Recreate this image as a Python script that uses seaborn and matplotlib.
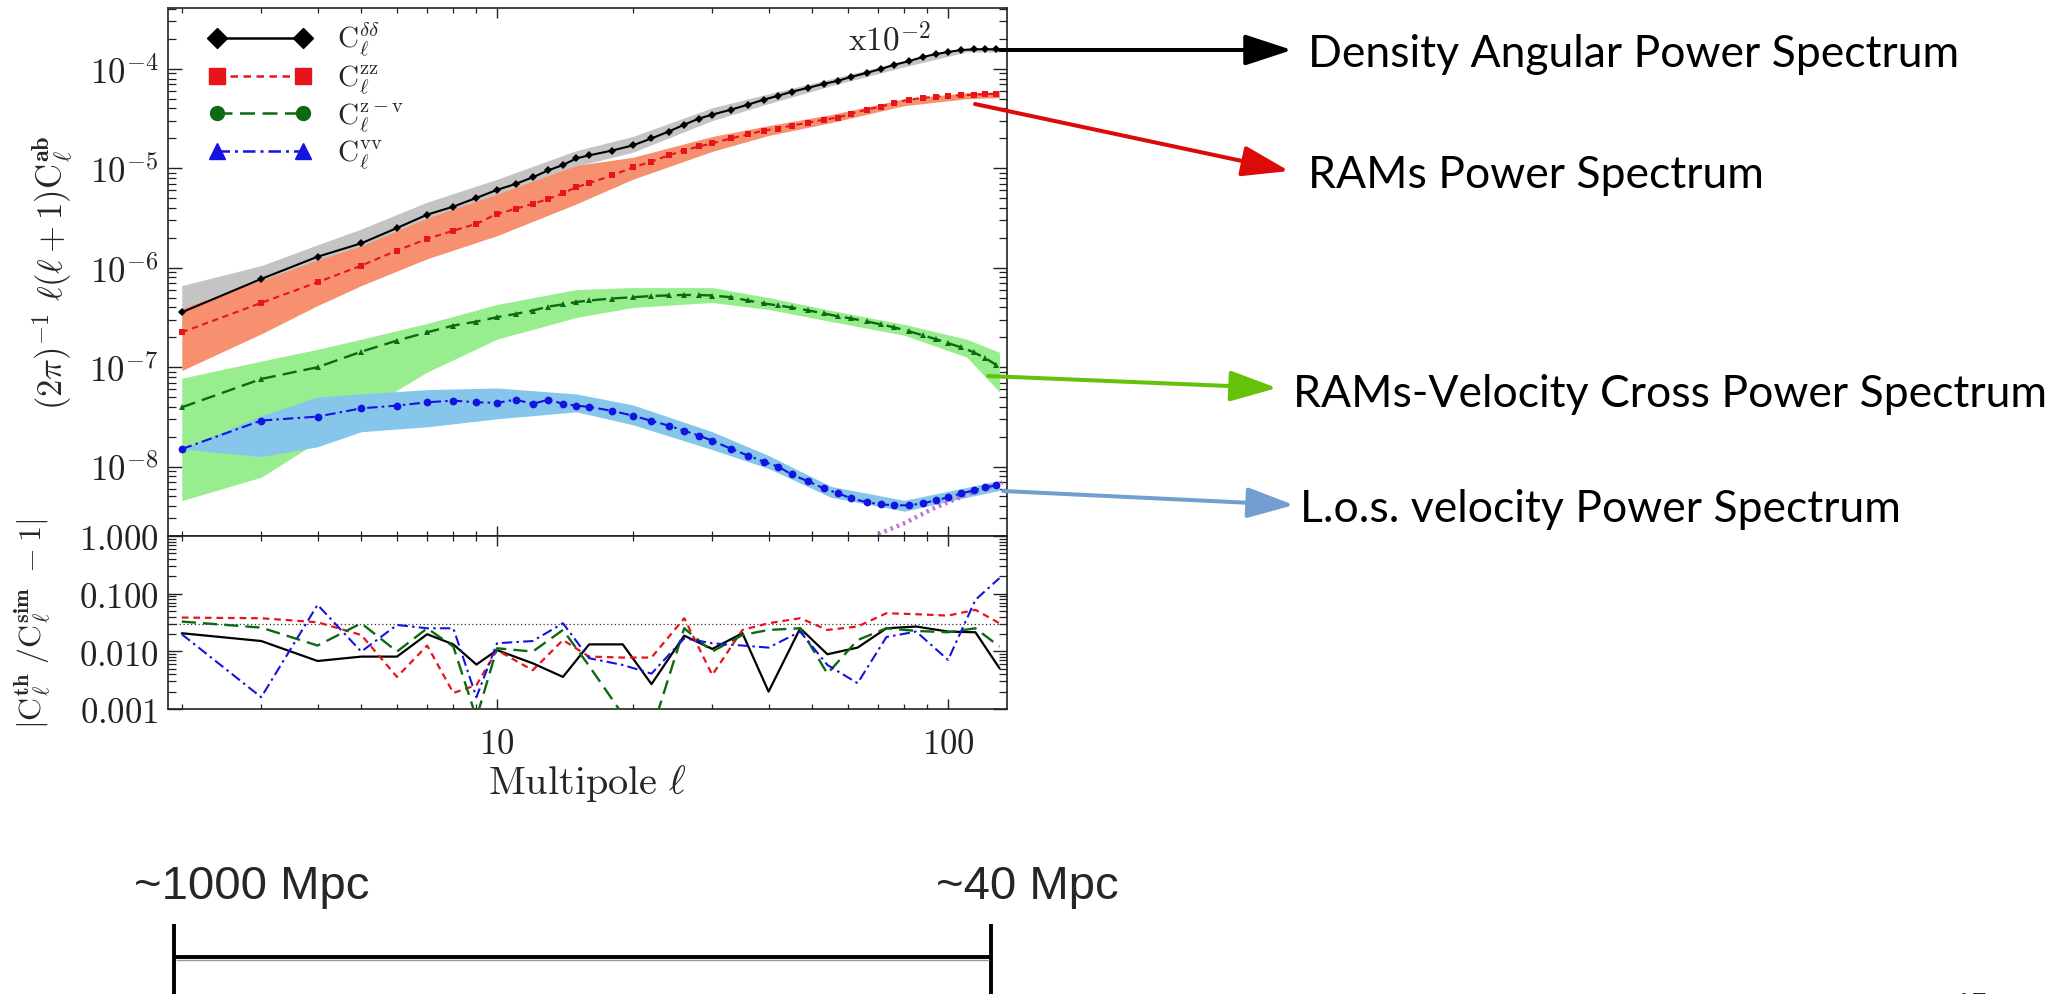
import numpy as np
import matplotlib
matplotlib.use("Agg")
import matplotlib.pyplot as plt
import seaborn as sns
from matplotlib.lines import Line2D
from matplotlib.ticker import FixedLocator, FixedFormatter, LogLocator, NullFormatter

# ---------------------------------------------------------------------------
# Angular power spectra, l(l+1)C_l/2pi, sampled multipoles
ell = [2, 3, 4, 5, 6, 7, 8, 9, 10, 11, 12, 13, 14, 15, 16, 18, 20, 22, 24, 26,
       28, 30, 33, 36, 39, 42, 45, 49, 53, 57, 61, 66, 71, 76, 82, 88, 94, 100,
       107, 114, 121, 128]

cl_dd = [3.56e-7, 7.71e-7, 1.29e-6, 1.76e-6, 2.51e-6, 3.42e-6, 4.12e-6, 5.04e-6,
         6.07e-6, 6.97e-6, 8.13e-6, 9.55e-6, 1.08e-5, 1.26e-5, 1.35e-5, 1.51e-5,
         1.70e-5, 2.00e-5, 2.34e-5, 2.75e-5, 3.16e-5, 3.47e-5, 3.89e-5, 4.37e-5,
         4.90e-5, 5.37e-5, 5.89e-5, 6.46e-5, 7.08e-5, 7.59e-5, 8.32e-5, 9.12e-5,
         1.00e-4, 1.10e-4, 1.20e-4, 1.32e-4, 1.41e-4, 1.48e-4, 1.55e-4, 1.57e-4,
         1.58e-4, 1.57e-4]

cl_zz = [2.24e-7, 4.43e-7, 7.14e-7, 1.05e-6, 1.49e-6, 1.95e-6, 2.36e-6, 2.76e-6,
         3.48e-6, 3.91e-6, 4.39e-6, 4.92e-6, 5.62e-6, 6.46e-6, 7.08e-6, 8.51e-6,
         1.02e-5, 1.17e-5, 1.35e-5, 1.51e-5, 1.66e-5, 1.78e-5, 2.00e-5, 2.19e-5,
         2.40e-5, 2.51e-5, 2.69e-5, 2.88e-5, 3.09e-5, 3.24e-5, 3.55e-5, 3.89e-5,
         4.17e-5, 4.57e-5, 4.90e-5, 5.13e-5, 5.25e-5, 5.37e-5, 5.43e-5, 5.50e-5,
         5.56e-5, 5.62e-5]

cl_zv = [3.94e-8, 7.60e-8, 9.98e-8, 1.43e-7, 1.85e-7, 2.24e-7, 2.62e-7, 2.87e-7,
         3.18e-7, 3.43e-7, 3.71e-7, 4.07e-7, 4.27e-7, 4.52e-7, 4.68e-7, 4.90e-7,
         5.05e-7, 5.19e-7, 5.27e-7, 5.32e-7, 5.32e-7, 5.25e-7, 5.05e-7, 4.68e-7,
         4.37e-7, 4.17e-7, 3.98e-7, 3.72e-7, 3.47e-7, 3.24e-7, 3.09e-7, 2.88e-7,
         2.69e-7, 2.51e-7, 2.29e-7, 2.09e-7, 1.91e-7, 1.74e-7, 1.58e-7, 1.41e-7,
         1.23e-7, 1.05e-7]

cl_vv = [1.50e-8, 2.90e-8, 3.18e-8, 3.85e-8, 4.10e-8, 4.43e-8, 4.60e-8, 4.43e-8,
         4.37e-8, 4.71e-8, 4.27e-8, 4.71e-8, 4.27e-8, 4.10e-8, 3.98e-8, 3.63e-8,
         3.25e-8, 2.88e-8, 2.58e-8, 2.29e-8, 2.05e-8, 1.82e-8, 1.51e-8, 1.29e-8,
         1.12e-8, 1.00e-8, 8.32e-9, 7.08e-9, 6.03e-9, 5.37e-9, 4.79e-9, 4.37e-9,
         4.17e-9, 4.07e-9, 4.07e-9, 4.27e-9, 4.57e-9, 4.90e-9, 5.37e-9, 5.75e-9,
         6.17e-9, 6.46e-9]

# scatter envelopes of the simulated spectra
ell_band = [2, 3, 4, 5, 7, 10, 15, 20, 30, 40, 55, 80, 110, 130]
dd_lo = [2.51e-7, 5.62e-7, 1.00e-6, 1.35e-6, 2.69e-6, 4.68e-6, 1.05e-5, 1.45e-5,
         3.02e-5, 4.47e-5, 6.76e-5, 1.05e-4, 1.48e-4, 1.48e-4]
dd_hi = [6.61e-7, 1.05e-6, 1.70e-6, 2.45e-6, 4.57e-6, 7.76e-6, 1.51e-5, 2.09e-5,
         4.07e-5, 5.62e-5, 7.94e-5, 1.20e-4, 1.62e-4, 1.66e-4]
zz_lo = [9.23e-8, 2.16e-7, 4.16e-7, 6.61e-7, 1.23e-6, 2.10e-6, 4.39e-6, 7.76e-6,
         1.48e-5, 2.14e-5, 2.88e-5, 4.27e-5, 5.01e-5, 5.13e-5]
zz_hi = [3.89e-7, 7.41e-7, 1.20e-6, 1.66e-6, 3.16e-6, 5.50e-6, 1.07e-5, 1.29e-5,
         2.09e-5, 2.69e-5, 3.47e-5, 5.01e-5, 5.75e-5, 5.89e-5]
zv_lo = [4.54e-9, 7.80e-9, 1.78e-8, 3.55e-8, 8.91e-8, 1.91e-7, 3.16e-7, 3.98e-7,
         4.47e-7, 3.80e-7, 2.88e-7, 2.09e-7, 1.26e-7, 5.62e-8]
zv_hi = [7.73e-8, 1.15e-7, 1.51e-7, 1.91e-7, 2.75e-7, 4.27e-7, 6.03e-7, 6.31e-7,
         6.31e-7, 5.01e-7, 3.72e-7, 2.69e-7, 1.91e-7, 1.41e-7]
vv_lo = [1.50e-8, 1.26e-8, 1.58e-8, 2.24e-8, 2.51e-8, 3.02e-8, 3.55e-8, 2.63e-8,
         1.48e-8, 9.55e-9, 4.90e-9, 3.55e-9, 4.90e-9, 5.75e-9]
vv_hi = [1.50e-8, 3.24e-8, 5.01e-8, 5.37e-8, 5.94e-8, 6.17e-8, 5.37e-8, 4.17e-8,
         2.24e-8, 1.29e-8, 6.31e-9, 4.57e-9, 6.17e-9, 7.24e-9]

# linear-theory velocity spectrum at high multipoles
ell_lin = [70, 80, 92, 110, 132]
cl_lin = [2.09e-9, 2.69e-9, 3.72e-9, 5.25e-9, 6.92e-9]

# relative deviation theory / simulation, binned multipoles
ell_res = [2, 3, 4, 5, 6, 7, 8, 9, 10, 12, 14, 16, 19, 22, 26, 30, 35, 40, 47,
           54, 63, 73, 85, 100, 115, 130]
res_dd = [0.0206, 0.0151, 0.0068, 0.0081, 0.0081, 0.0198, 0.0132, 0.0059, 0.0105,
          0.0062, 0.0036, 0.0132, 0.0132, 0.0027, 0.0187, 0.0110, 0.0206, 0.0020,
          0.0251, 0.0089, 0.0116, 0.0251, 0.0269, 0.0220, 0.0214, 0.0051]
res_zz = [0.0385, 0.0375, 0.0319, 0.0192, 0.0036, 0.0126, 0.0019, 0.0026, 0.0105,
          0.0047, 0.0157, 0.0081, 0.0078, 0.0078, 0.0375, 0.0039, 0.0235, 0.0307,
          0.0375, 0.0235, 0.0269, 0.0458, 0.0440, 0.0417, 0.0524, 0.0307]
res_zv = [0.0328, 0.0258, 0.0126, 0.0307, 0.0099, 0.0251, 0.0121, 0.0007, 0.0113,
          0.0099, 0.0235, 0.0056, 0.0008, 0.0004, 0.0251, 0.0099, 0.0192, 0.0235,
          0.0251, 0.0041, 0.0157, 0.0251, 0.0226, 0.0214, 0.0251, 0.0121]
res_vv = [0.0198, 0.0016, 0.0640, 0.0099, 0.0287, 0.0251, 0.0251, 0.0016, 0.0138,
          0.0151, 0.0307, 0.0076, 0.0058, 0.0041, 0.0168, 0.0138, 0.0126, 0.0116,
          0.0220, 0.0058, 0.0028, 0.0177, 0.0220, 0.0071, 0.0782, 0.1860]
res_ref = 0.03

# axis tick labels
xticks = [10, 100]
xticklabels = [r"$10$", r"$100$"]
yticks_top = [1e-8, 1e-7, 1e-6, 1e-5, 1e-4]
yticklabels_top = [r"$10^{-8}$", r"$10^{-7}$", r"$10^{-6}$", r"$10^{-5}$", r"$10^{-4}$"]
yticks_res = [1e-3, 1e-2, 1e-1, 1.0]
yticklabels_res = [r"$0.001$", r"$0.010$", r"$0.100$", r"$1.000$"]

legend_labels = [r"$\mathrm{C}_\ell^{\delta\delta}$", r"$\mathrm{C}_\ell^{\mathrm{zz}}$",
                 r"$\mathrm{C}_\ell^{\mathrm{z-v}}$", r"$\mathrm{C}_\ell^{\mathrm{vv}}$"]

annotations = ["Density Angular Power Spectrum", "RAMs Power Spectrum",
               "RAMs-Velocity Cross Power Spectrum", "L.o.s. velocity Power Spectrum"]
scale_labels = ["~1000 Mpc", "~40 Mpc"]

# ---------------------------------------------------------------------------
sns.set_theme(style="ticks")
plt.rcParams.update({
    "font.family": ["DejaVu Serif"],
    "mathtext.fontset": "cm",
    "axes.linewidth": 1.2,
    "axes.edgecolor": "#222222",
    "xtick.color": "#222222",
    "ytick.color": "#222222",
    "figure.facecolor": "white",
    "axes.facecolor": "white",
})

W, H = 2053, 995
fig = plt.figure(figsize=(W / 100, H / 100), dpi=100)


def frect(x0, y0, x1, y1):
    return [x0 / W, 1 - y1 / H, (x1 - x0) / W, (y1 - y0) / H]


ax = fig.add_axes(frect(168, 9, 1007, 537))
axr = fig.add_axes(frect(168, 537, 1007, 710))

for a in (ax, axr):
    a.set_xscale("log")
    a.set_yscale("log")

# envelopes
ax.fill_between(ell_band, dd_lo, dd_hi, color="#c4c4c4", lw=0, zorder=1)
ax.fill_between(ell_band, zz_lo, zz_hi, color="#f7906f", lw=0, zorder=1.1)
ax.fill_between(ell_band, zv_lo, zv_hi, color="#98ee8e", lw=0, zorder=1.2)
ax.fill_between(ell_band, vv_lo, vv_hi, color="#86c6ea", lw=0, zorder=1.3)

# spectra
styles = [
    (cl_dd, "black", "-", "D", 4.0, 1.5),
    (cl_zz, "#e8141c", (0, (3.0, 2.2)), "s", 5.0, 1.5),
    (cl_zv, "#0b6a12", (0, (6.0, 3.0)), "^", 4.4, 1.7),
    (cl_vv, "#1414e0", (0, (5.0, 2.0, 1.2, 2.0)), "o", 5.6, 1.5),
]
for vals, col, ls, mk, ms, lw in styles:
    sns.lineplot(x=ell, y=vals, ax=ax, color=col, linestyle=ls, lw=lw, marker=mk,
                 markersize=ms, mec=col, mew=0, errorbar=None, legend=False, zorder=3)

sns.lineplot(x=ell_lin, y=cl_lin, ax=ax, color="#b461d6", linestyle=(0, (0.6, 0.9)),
             lw=3.2, alpha=0.85, errorbar=None, legend=False, zorder=2.5)

# residual panel
res_styles = [
    (res_dd, "black", "-", 1.6),
    (res_zz, "#e8141c", (0, (3.0, 2.2)), 1.6),
    (res_zv, "#0b6a12", (0, (6.0, 3.0)), 1.7),
    (res_vv, "#1414e0", (0, (5.0, 2.0, 1.2, 2.0)), 1.5),
]
for vals, col, ls, lw in res_styles:
    sns.lineplot(x=ell_res, y=vals, ax=axr, color=col, linestyle=ls, lw=lw,
                 errorbar=None, legend=False, zorder=3)
axr.axhline(res_ref, color="#333333", lw=0.9, linestyle=(0, (1, 2)), zorder=2)

# axes limits and ticks
for a in (ax, axr):
    a.set_xlim(1.864, 135.1)
    a.tick_params(axis="both", which="both", direction="in", top=True, right=True,
                  labelsize=25)
    a.tick_params(axis="x", which="major", length=7, width=1.0, pad=12)
    a.tick_params(axis="x", which="minor", length=3.6, width=0.9)
    a.tick_params(axis="y", which="major", length=10, width=1.0, pad=7)
    a.tick_params(axis="y", which="minor", length=6, width=0.9)
    a.xaxis.set_major_locator(FixedLocator(xticks))
    a.xaxis.set_minor_locator(FixedLocator([2, 3, 4, 5, 6, 7, 8, 9,
                                            20, 30, 40, 50, 60, 70, 80, 90]))
    a.xaxis.set_minor_formatter(NullFormatter())
    a.yaxis.set_minor_locator(LogLocator(base=10, subs=np.arange(2, 10), numticks=60))
    a.yaxis.set_minor_formatter(NullFormatter())
    a.set_xlabel("")
    a.set_ylabel("")

ax.set_ylim(2.0e-9, 4.1e-4)
ax.yaxis.set_major_locator(FixedLocator(yticks_top))
ax.yaxis.set_major_formatter(FixedFormatter(yticklabels_top))
ax.tick_params(axis="x", labelbottom=False)

axr.set_ylim(1e-3, 1.0)
axr.yaxis.set_major_locator(FixedLocator(yticks_res))
axr.yaxis.set_major_formatter(FixedFormatter(yticklabels_res))
axr.xaxis.set_major_formatter(FixedFormatter(xticklabels))

ax.set_ylabel(r"$(2\pi)^{-1}\ \ell(\ell+1)\mathrm{C}_\ell^{\mathbf{ab}}$", fontsize=25)
ax.yaxis.set_label_coords(-0.111, 0.5)
axr.set_ylabel(r"$|\mathrm{C}_\ell^{\mathbf{th}}\ /\mathrm{C}_\ell^{\mathbf{sim}}\ -1|$",
               fontsize=23)
axr.yaxis.set_label_coords(-0.137, 0.5)
axr.set_xlabel(r"$\mathrm{Multipole}\ \ell$", fontsize=29, labelpad=2)

ax.text(0.81, 0.94, r"$\mathrm{x}10^{-2}$", transform=ax.transAxes, fontsize=24,
        va="center", ha="left")

# legend
handles = [
    Line2D([], [], color="black", ls="-", lw=1.8, marker="D", ms=10),
    Line2D([], [], color="#e8141c", ls=(0, (3.0, 2.2)), lw=1.8, marker="s", ms=11),
    Line2D([], [], color="#0b6a12", ls=(0, (6.0, 3.0)), lw=1.8, marker="o", ms=10),
    Line2D([], [], color="#1414e0", ls=(0, (5.0, 2.0, 1.2, 2.0)), lw=1.8, marker="^", ms=11),
]
ax.legend(handles, legend_labels, loc="upper left", bbox_to_anchor=(0.0477, 0.977),
          frameon=False, fontsize=21, numpoints=2, handlelength=3.56,
          handletextpad=0.86, labelspacing=0.15, borderpad=0, borderaxespad=0)

# ---------------------------------------------------------------------------
# overlay in pixel units for the annotations and the scale bar
ov = fig.add_axes([0, 0, 1, 1], zorder=5)
ov.set_xlim(0, W)
ov.set_ylim(H, 0)
ov.axis("off")
ov.patch.set_alpha(0)

arrows = [
    ((1000, 51), (1292, 51), "black"),
    ((975, 105), (1289, 172), "#dd0a0a"),
    ((988, 377), (1277, 389), "#66c10a"),
    ((1003, 492), (1294, 506), "#729fcf"),
]
for start, tip, col in arrows:
    ov.annotate("", xy=tip, xytext=start,
                arrowprops=dict(arrowstyle="-|>,head_length=2.9,head_width=0.95",
                                mutation_scale=10, color=col, lw=2.9,
                                shrinkA=0, shrinkB=0))

side_font = ["Lato", "DejaVu Sans"]
text_pos = [(1308, 67), (1308, 188), (1293, 407), (1300, 522)]
for (tx, ty), s in zip(text_pos, annotations):
    ov.text(tx, ty, s, fontsize=32, family=side_font, va="baseline", ha="left",
            color="black")

bar_font = ["Liberation Sans", "DejaVu Sans"]
ov.text(134, 899, scale_labels[0], fontsize=34, family=bar_font, va="baseline", ha="left")
ov.text(936, 899, scale_labels[1], fontsize=34, family=bar_font, va="baseline", ha="left")
ov.plot([174, 174], [925, 1000], color="black", lw=2.8, solid_capstyle="butt")
ov.plot([991, 991], [925, 1000], color="black", lw=2.8, solid_capstyle="butt")
ov.plot([174, 991], [958, 958], color="black", lw=2.8, solid_capstyle="butt")
ov.plot([176, 989], [961, 961], color="#9a9a9a", lw=1.0, solid_capstyle="butt")
ov.text(1955, 992, "15", fontsize=22, family=bar_font, va="top", ha="left")

fig.savefig("out.png", dpi=100)
